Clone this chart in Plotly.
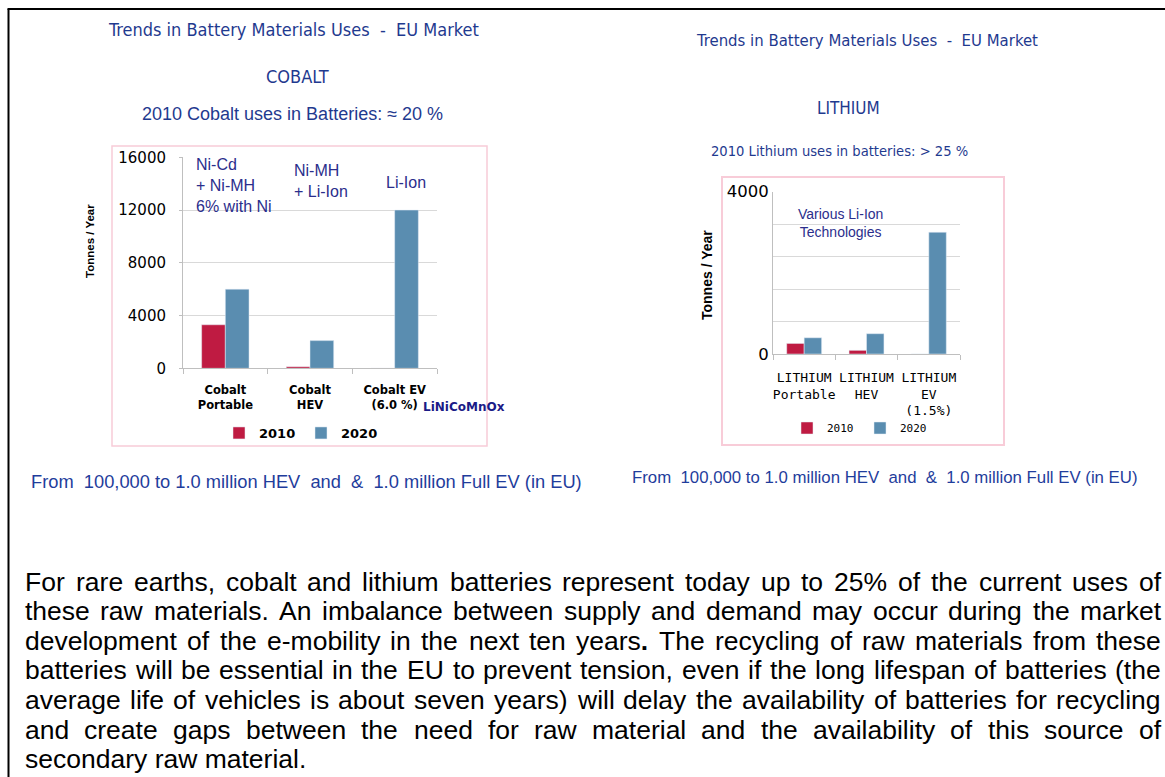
import re
import plotly.graph_objects as go

W, H = 1165, 777

# ---------------- data ----------------
cobalt_categories = ["Cobalt<br>Portable", "Cobalt<br>HEV", "Cobalt EV<br>(6.0 %)"]
cobalt_2010 = [3300, 120, 0]
cobalt_2020 = [6000, 2100, 12000]
cobalt_ticks = [0, 4000, 8000, 12000, 16000]

lithium_categories = ["LITHIUM<br>Portable", "LITHIUM<br>HEV", "LITHIUM<br>EV<br>(1.5%)"]
lithium_2010 = [260, 90, 0]
lithium_2020 = [400, 500, 3000]
lithium_ticks = [0, 800, 1600, 2400, 3200, 4000]
lithium_ticktext = ["0", "", "", "", "", "4000"]

series_names = ["2010", "2020"]

paragraph_lines = [
    "For rare earths, cobalt and lithium batteries represent today up to 25% of the current uses of",
    "these raw materials. An imbalance between supply and demand may occur during the market",
    "development of the e-mobility in the next ten years<b>.</b> The recycling of raw materials from these",
    "batteries will be essential in the EU to prevent tension, even if the long lifespan of batteries (the",
    "average life of vehicles is about seven years) will delay the availability of batteries for recycling",
    "and create gaps between the need for raw material and the availability of this source of",
    "secondary raw material.",
]

RED = "#BF1B42"
BLUE = "#5A8DB0"
TITLE_BLUE = "#1F3A8F"
NAVY = "#2B2E8C"
GRID = "#D9D9D9"
AXIS = "#BFBFBF"
PINK = "#F8CCD8"

COND = "DejaVu Sans Condensed, Liberation Sans Narrow, DejaVu Sans"
ARIAL = "Liberation Sans, Arial"
VERD = "DejaVu Sans"
MONO = "DejaVu Sans Mono"

# Arial / Liberation Sans advance widths (1/1000 em) for text justification
ARIAL_W = {' ': 278, ',': 278, '.': 278, '-': 333, '(': 333, ')': 333, '%': 889,
           '0': 556, '1': 556, '2': 556, '3': 556, '4': 556, '5': 556, '6': 556,
           '7': 556, '8': 556, '9': 556, 'A': 667, 'E': 667, 'F': 611, 'T': 611,
           'U': 722, 'a': 556, 'b': 556, 'c': 500, 'd': 556, 'e': 556, 'f': 278,
           'g': 556, 'h': 556, 'i': 222, 'j': 222, 'k': 500, 'l': 222, 'm': 833,
           'n': 556, 'o': 556, 'p': 556, 'q': 556, 'r': 333, 's': 500, 't': 278,
           'u': 556, 'v': 500, 'w': 722, 'x': 500, 'y': 500, 'z': 500}


def text_width(s, size):
    plain = re.sub(r"<[^>]+>", "", s)
    return sum(ARIAL_W.get(c, 556) for c in plain) * size / 1000.0


def px(x):
    return x / W


def py(y):
    return 1 - y / H


fig = go.Figure()
fig.add_trace(go.Bar(x=cobalt_categories, y=cobalt_2010, name=series_names[0],
                     marker_color=RED, xaxis="x", yaxis="y", legend="legend"))
fig.add_trace(go.Bar(x=cobalt_categories, y=cobalt_2020, name=series_names[1],
                     marker_color=BLUE, xaxis="x", yaxis="y", legend="legend"))
fig.add_trace(go.Bar(x=lithium_categories, y=lithium_2010, name=series_names[0],
                     marker_color=RED, xaxis="x2", yaxis="y2", legend="legend2"))
fig.add_trace(go.Bar(x=lithium_categories, y=lithium_2020, name=series_names[1],
                     marker_color=BLUE, xaxis="x2", yaxis="y2", legend="legend2"))

annotations = []


def note(text, x, y, size, color, family, xanchor="center", yanchor="middle",
         align="center", weight="normal", angle=0):
    annotations.append(dict(text=text, x=px(x), y=py(y), xref="paper", yref="paper",
                            xanchor=xanchor, yanchor=yanchor, align=align,
                            showarrow=False, textangle=angle, borderpad=0,
                            font=dict(size=size, color=color, family=family, weight=weight)))


NB = "\u00a0"
# Cobalt header
note(f"Trends in Battery Materials Uses {NB}-{NB} EU Market", 293, 29, 18, TITLE_BLUE, COND)
note("COBALT", 297, 77, 18, TITLE_BLUE, COND)
note("2010 Cobalt uses in Batteries: \u2248 20 %", 292, 114, 18, TITLE_BLUE, ARIAL)
# Lithium header
note(f"Trends in Battery Materials Uses {NB}-{NB} EU Market", 867, 41, 16.6, TITLE_BLUE, COND)
note("LITHIUM", 848, 108, 17, TITLE_BLUE, COND)
note("2010 Lithium uses in batteries: > 25 %", 839, 150, 14.6, TITLE_BLUE, COND)

# In-chart notes
note("Ni-Cd<br>+ Ni-MH<br>6% with Ni", 195, 185.5, 16, NAVY, ARIAL, xanchor="left", align="left")
note("Ni-MH<br>+ Li-Ion", 293, 181.5, 16, NAVY, ARIAL, xanchor="left", align="left")
note("Li-Ion", 406, 183, 16, NAVY, ARIAL)
note("LiNiCoMnOx", 422, 407, 12, "#1B1B87", VERD, xanchor="left", weight="bold")
note("Various Li-Ion<br>Technologies", 840, 223, 14, NAVY, ARIAL)

# axis titles
note("Tonnes / Year", 90, 241, 11.5, "black", ARIAL, weight="bold", angle=-90)
note("Tonnes / Year", 707, 275, 14, "black", ARIAL, weight="bold", angle=-90)

# captions
cap = f"From {NB}100,000 to 1.0 million HEV {NB}and {NB}&{NB} 1.0 million Full EV (in EU)"
note(cap, 307, 481, 18.3, "#1F3D9C", ARIAL)
note(cap, 885, 477, 16.8, "#1F3D9C", ARIAL)

# justified paragraph
PARA_SIZE = 26.5
PARA_LEFT, PARA_RIGHT = 24, 1160
for i, line in enumerate(paragraph_lines):
    yc = 581.5 + 29.6 * i
    words = line.split(" ")
    if i == len(paragraph_lines) - 1:
        note(line, PARA_LEFT, yc, PARA_SIZE, "black", ARIAL, xanchor="left", align="left")
        continue
    widths = [text_width(w, PARA_SIZE) for w in words]
    gap = (PARA_RIGHT - PARA_LEFT - sum(widths)) / (len(words) - 1)
    x = PARA_LEFT
    for w, wd in zip(words, widths):
        note(w, x, yc, PARA_SIZE, "black", ARIAL, xanchor="left", align="left")
        x += wd + gap

shapes = [
    dict(type="rect", xref="paper", yref="paper", x0=px(112), x1=px(487), y0=py(446), y1=py(146),
         line=dict(color=PINK, width=1.5), layer="below"),
    dict(type="rect", xref="paper", yref="paper", x0=px(722), x1=px(1004), y0=py(445), y1=py(177),
         line=dict(color=PINK, width=2), layer="below"),
    dict(type="line", xref="paper", yref="paper", x0=px(7.5), x1=1, y0=py(9), y1=py(9),
         line=dict(color="black", width=2)),
    dict(type="line", xref="paper", yref="paper", x0=px(8.5), x1=px(8.5), y0=py(9), y1=0,
         line=dict(color="black", width=2)),
]

fig.update_layout(
    width=W, height=H, autosize=False,
    margin=dict(l=0, r=0, t=0, b=0, pad=0, autoexpand=False),
    paper_bgcolor="white", plot_bgcolor="white",
    barmode="group", bargap=0.44, bargroupgap=0,
    annotations=annotations, shapes=shapes,
    xaxis=dict(domain=[px(183), px(437)], anchor="y", showline=True, linecolor=AXIS,
               ticks="outside", tickson="boundaries", ticklen=5, tickcolor=AXIS,
               showgrid=False, ticklabelstandoff=11, tickangle=0, automargin=False,
               tickfont=dict(family=VERD, size=11.5, color="black", weight="bold")),
    yaxis=dict(domain=[py(368.3), py(157.3)], anchor="x", range=[0, 16000],
               tickvals=cobalt_ticks, tickformat="d", showgrid=True, gridcolor=GRID,
               showline=True, linecolor=AXIS, zeroline=False, ticks="outside", ticklen=3,
               tickcolor=AXIS, ticklabelstandoff=10, automargin=False,
               tickfont=dict(family=VERD, size=15, color="black")),
    xaxis2=dict(domain=[px(773), px(960)], anchor="y2", showline=True, linecolor=AXIS,
                ticks="outside", tickson="boundaries", ticklen=5, tickcolor=AXIS,
                showgrid=False, ticklabelstandoff=11, tickangle=0, automargin=False,
                tickfont=dict(family=MONO, size=13, color="black")),
    yaxis2=dict(domain=[py(354), py(191.7)], anchor="x2", range=[0, 4000],
                tickvals=lithium_ticks, ticktext=lithium_ticktext, showgrid=True,
                gridcolor=GRID, showline=True, linecolor=AXIS, zeroline=False,
                automargin=False,
                tickfont=dict(family=VERD, size=16.5, color="black")),
    legend=dict(x=px(219), y=py(433), xanchor="left", yanchor="middle", orientation="h",
                bgcolor="rgba(0,0,0,0)", itemwidth=30, traceorder="normal",
                entrywidth=37, entrywidthmode="pixels",
                font=dict(family=VERD, size=13, color="black", weight="bold")),
    legend2=dict(x=px(787), y=py(428), xanchor="left", yanchor="middle", orientation="h",
                 bgcolor="rgba(0,0,0,0)", itemwidth=30, traceorder="normal",
                 entrywidth=28, entrywidthmode="pixels",
                 font=dict(family=MONO, size=11, color="black")),
)

post = ("var d=document.documentElement;d.style.margin='0';d.style.padding='0';"
        "d.style.overflow='hidden';"
        "var b=document.body;b.style.margin='0';b.style.padding='0';b.style.overflow='hidden';"
        "var g=document.getElementById('{plot_id}');g.style.position='fixed';"
        "g.style.left='0px';g.style.top='0px';g.style.margin='0';")
fig.write_html("out.html", post_script=post, config={"displayModeBar": False})
